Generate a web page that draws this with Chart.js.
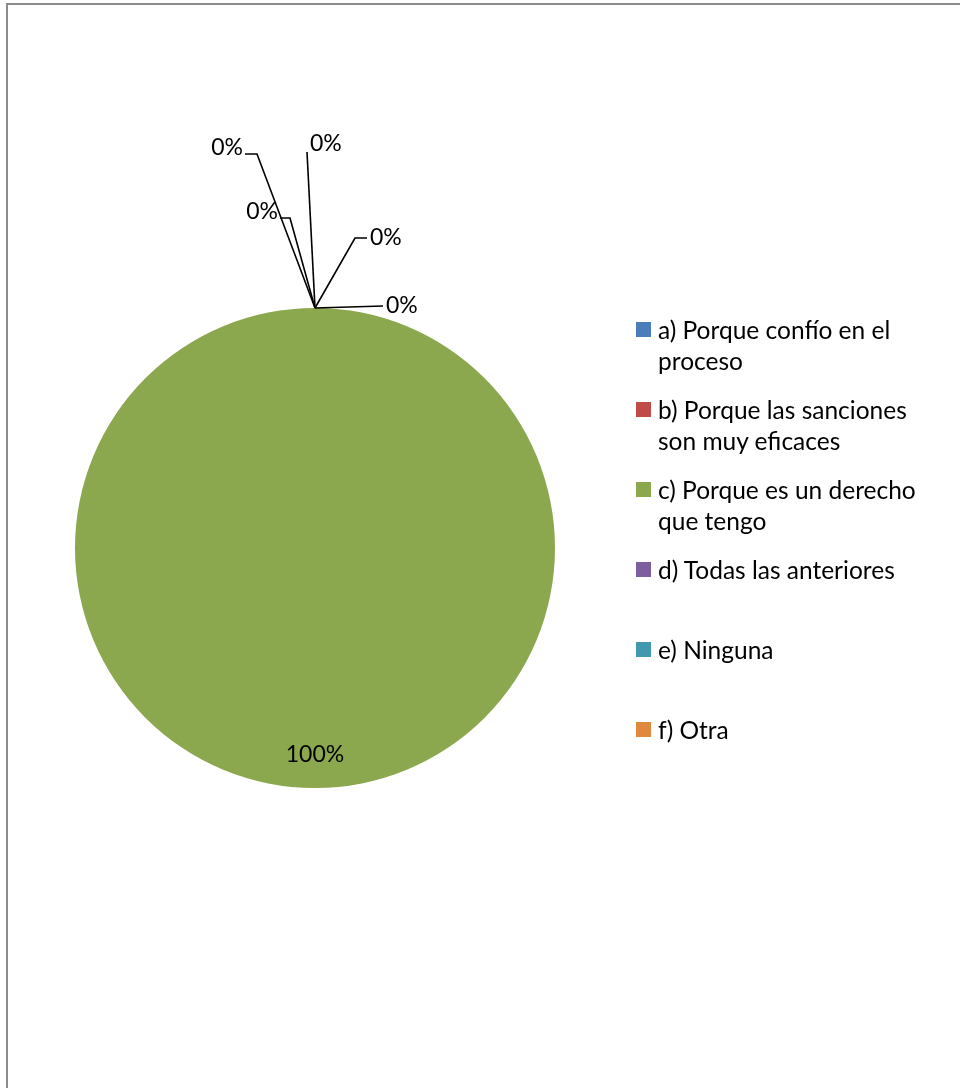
<!DOCTYPE html>
<html>
<head>
<meta charset="utf-8">
<script src="https://cdn.jsdelivr.net/npm/chart.js@4"></script>
<style>
  html, body { margin: 0; padding: 0; background: #fff; }
  body { width: 960px; height: 1088px; position: relative; overflow: hidden; }
  #frame {
    position: absolute; left: 6px; top: 3px; width: 1000px; height: 1200px;
    border: 2px solid #8c8c8c; box-sizing: border-box;
  }
  #wrap { position: absolute; left: 0; top: 0; width: 960px; height: 1088px; }
  #legend {
    position: absolute; left: 636px; top: 314px; width: 320px;
    font-family: Lato, "Noto Sans", sans-serif; font-size: 24.5px; color: #000;
  }
  .item { display: flex; height: 80px; }
  .swatch { width: 15px; height: 15px; margin-top: 8px; margin-right: 7px; flex: none; }
  .txt { line-height: 31px; width: 272px; }
</style>
</head>
<body>
<div id="frame"></div>
<div id="wrap"><canvas id="chart" width="960" height="1088"></canvas></div>
<div id="legend"></div>
<script>
// ─── Data ────────────────────────────────────────────────────────────────────

const categories = [
  'a) Porque confío en el proceso',
  'b) Porque las sanciones son muy eficaces',
  'c) Porque es un derecho que tengo',
  'd) Todas las anteriores',
  'e) Ninguna',
  'f) Otra',
];
const percentages = [0, 0, 100, 0, 0, 0];
const sliceColors = ['#4A7EBB', '#BE4B48', '#8BA84F', '#7D5F9F', '#4198AF', '#E0883E'];

// leader line elbows for the zero labels (dx, dy from slice edge, then label side)
const leaderElbows = [
  { dx: -8,  dy: -156, run: 0,   side: 'right' },
  { dx: 40,  dy: -70,  run: 12,  side: 'right' },
  { dx: 68,  dy: -2,   run: 0,   side: 'right' },
  { dx: -25, dy: -90,  run: -10, side: 'left'  },
  { dx: -58, dy: -154, run: -12, side: 'left'  },
];

// ─── Label plugin ────────────────────────────────────────────────────────────

const pieLabels = {
  id: 'pieLabels',
  afterDatasetsDraw(chart) {
    const ctx = chart.ctx;
    const arcs = chart.getDatasetMeta(0).data;
    const values = chart.data.datasets[0].data;
    ctx.save();
    ctx.font = '23px Lato, "Noto Sans", sans-serif';
    ctx.fillStyle = '#000';
    ctx.strokeStyle = '#000';
    ctx.lineWidth = 1.6;
    ctx.textBaseline = 'middle';
    let z = 0;
    arcs.forEach((arc, i) => {
      const { x, y, startAngle, endAngle, outerRadius } = arc.getProps(['x', 'y', 'startAngle', 'endAngle', 'outerRadius'], true);
      const mid = (startAngle + endAngle) / 2;
      const text = `${values[i]}%`;
      if (values[i] > 0) {
        ctx.textAlign = 'center';
        ctx.fillText(text, x + Math.cos(mid) * outerRadius * 0.86, y + Math.sin(mid) * outerRadius * 0.86);
        return;
      }
      const e = leaderElbows[z++];
      const ax = x + Math.cos(mid) * outerRadius;
      const ay = y + Math.sin(mid) * outerRadius;
      const ex = ax + e.dx, ey = ay + e.dy;
      ctx.beginPath();
      ctx.moveTo(ax, ay);
      ctx.lineTo(ex, ey);
      ctx.lineTo(ex + e.run, ey);
      ctx.stroke();
      if (e.side === 'right') {
        ctx.textAlign = 'left';
        ctx.fillText(text, ex + e.run + 3, ey - (e.run === 0 && e.dy < -100 ? 8 : 0));
      } else {
        ctx.textAlign = 'right';
        ctx.fillText(text, ex + e.run - 2, ey - 6);
      }
    });
    ctx.restore();
  },
};

// ─── Chart ───────────────────────────────────────────────────────────────────

const chart = new Chart(document.getElementById('chart'), {
  type: 'pie',
  data: {
    labels: categories,
    datasets: [{ data: percentages, backgroundColor: sliceColors, borderWidth: 0 }],
  },
  options: {
    responsive: false,
    animation: false,
    layout: { padding: { left: 75, right: 405, top: 308, bottom: 300 } },
    plugins: { legend: { display: false }, tooltip: { enabled: false } },
  },
  plugins: [pieLabels],
});

// ─── Legend ──────────────────────────────────────────────────────────────────

document.getElementById('legend').innerHTML = categories.map((c, i) => `
  <div class="item"><span class="swatch" style="background:${sliceColors[i]}"></span><span class="txt">${c}</span></div>
`).join('');
</script>
</body>
</html>
